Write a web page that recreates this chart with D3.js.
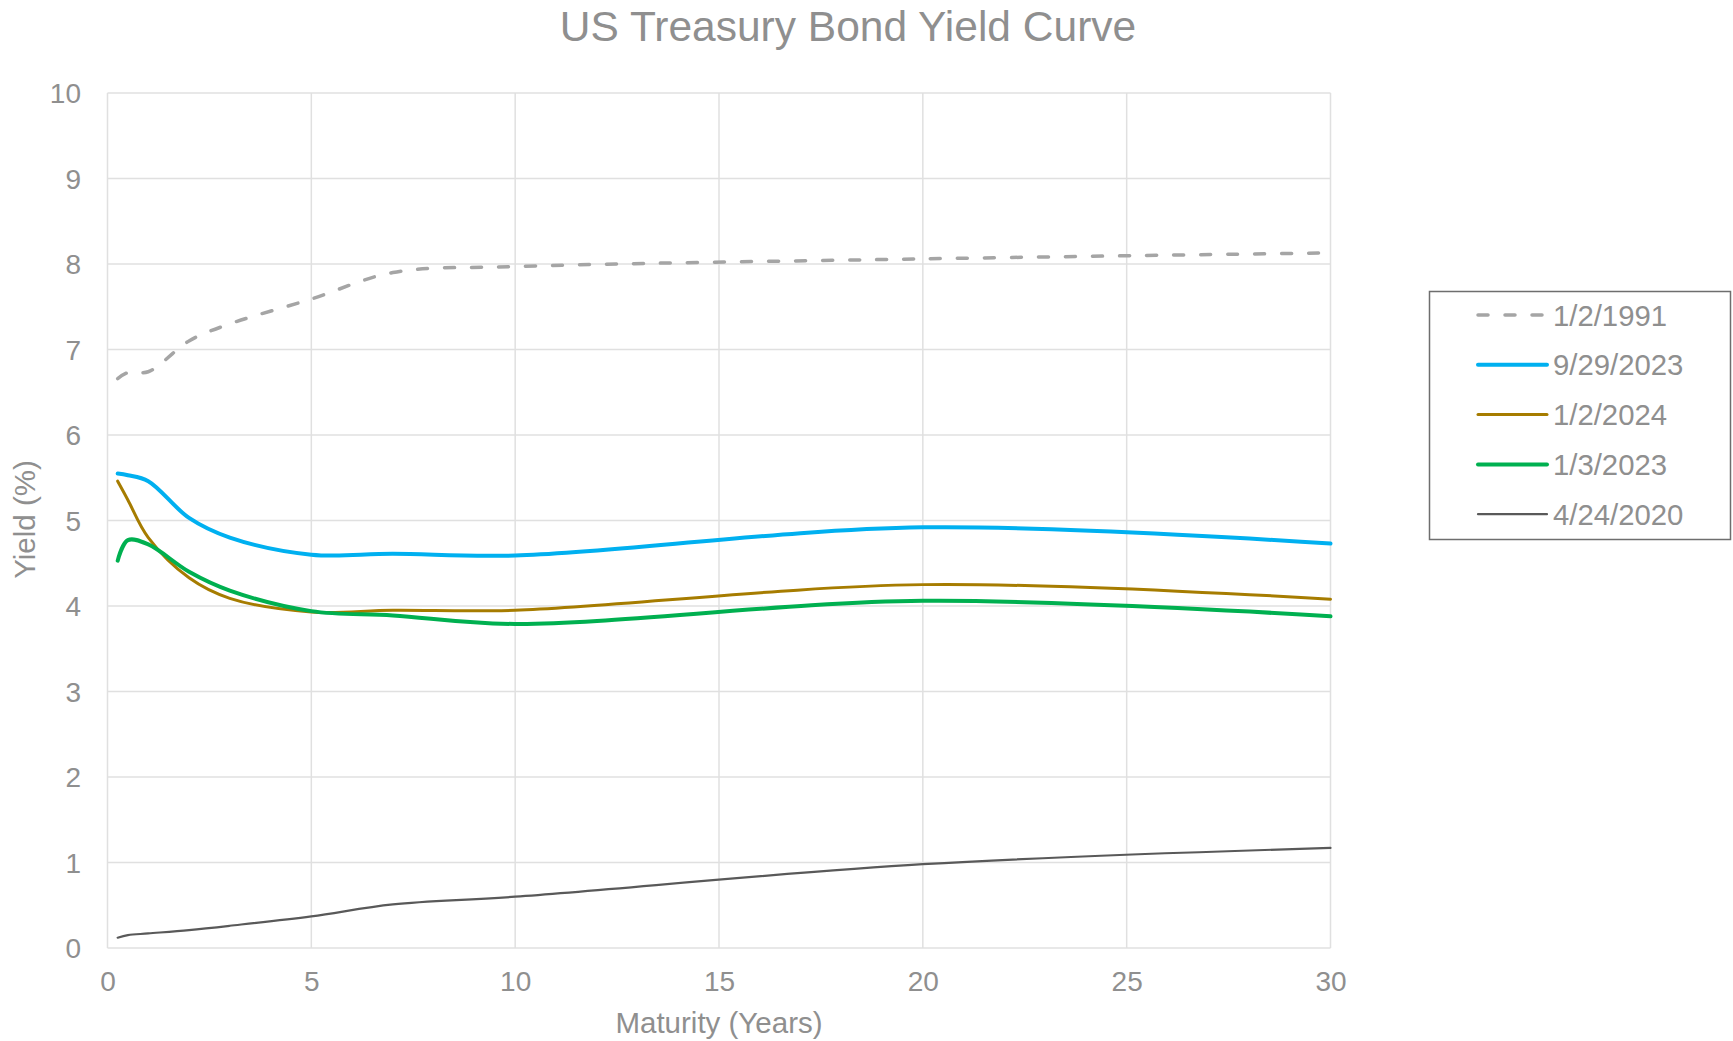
<!DOCTYPE html>
<html>
<head>
<meta charset="utf-8">
<script src="https://cdn.jsdelivr.net/npm/d3@7"></script>
<style>
  html, body { margin: 0; padding: 0; background: #fff; }
  svg { display: block; font-family: "Liberation Sans", Arial, sans-serif; }
</style>
</head>
<body>
<svg id="chart" width="1733" height="1041"></svg>
<script>
// ---- Data ----
const maturities = [0.25, 0.5, 1, 2, 3, 5, 7, 10, 20, 30];
const seriesNames = ["1/2/1991", "9/29/2023", "1/2/2024", "1/3/2023", "4/24/2020"];
const yields1991 = [6.66, 6.73, 6.74, 7.10, 7.30, 7.59, 7.90, 7.97, 8.06, 8.13];
const yields2023Sep = [5.55, 5.53, 5.46, 5.03, 4.80, 4.60, 4.61, 4.59, 4.92, 4.73];
const yields2024Jan = [5.46, 5.24, 4.80, 4.33, 4.09, 3.93, 3.95, 3.95, 4.25, 4.08];
const yields2023Jan = [4.53, 4.77, 4.72, 4.40, 4.18, 3.94, 3.89, 3.79, 4.06, 3.88];
const yields2020 = [0.12, 0.15, 0.17, 0.21, 0.26, 0.37, 0.51, 0.60, 0.98, 1.17];
const xTicks = [0, 5, 10, 15, 20, 25, 30];
const yTicks = [0, 1, 2, 3, 4, 5, 6, 7, 8, 9, 10];
const chartTitle = "US Treasury Bond Yield Curve";
const xTitle = "Maturity (Years)";
const yTitle = "Yield (%)";

const seriesValues = [yields1991, yields2023Sep, yields2024Jan, yields2023Jan, yields2020];
const styles = [
  { color: "#A5A5A5", width: 3.5, dash: "10,17" },
  { color: "#00B0F0", width: 4, dash: null },
  { color: "#A67C00", width: 3, dash: null },
  { color: "#00B050", width: 4, dash: null },
  { color: "#595959", width: 2.2, dash: null }
];

// ---- Layout ----
const svg = d3.select("#chart");
const pLeft = 107.5, pRight = 1330.5, pTop = 93, pBottom = 948;
const x = d3.scaleLinear().domain([0, 30]).range([pLeft, pRight]);
const y = d3.scaleLinear().domain([0, 10]).range([pBottom, pTop]);
const textColor = "#8F8F8F";
const gridColor = "#E0E0E0";

// Gridlines
const grid = svg.append("g");
grid.selectAll(".hg").data(yTicks).join("line")
  .attr("x1", pLeft).attr("x2", pRight)
  .attr("y1", d => y(d)).attr("y2", d => y(d))
  .attr("stroke", gridColor).attr("stroke-width", 1.5);
grid.selectAll(".vg").data(xTicks).join("line")
  .attr("y1", pTop).attr("y2", pBottom)
  .attr("x1", d => x(d)).attr("x2", d => x(d))
  .attr("stroke", gridColor).attr("stroke-width", 1.5);

// Axes (labels only)
const xAxis = d3.axisBottom(x).tickValues(xTicks).tickSize(0).tickPadding(0);
const gx = svg.append("g").attr("transform", `translate(0,${pBottom})`).call(xAxis);
gx.select(".domain").remove();
gx.selectAll("text").attr("font-size", 28).attr("fill", textColor)
  .attr("font-family", "Liberation Sans, Arial, sans-serif")
  .attr("dy", null).attr("y", 43);

const yAxis = d3.axisLeft(y).tickValues(yTicks).tickSize(0).tickPadding(0);
const gy = svg.append("g").attr("transform", `translate(81,0)`).call(yAxis);
gy.select(".domain").remove();
gy.selectAll("text").attr("font-size", 28).attr("fill", textColor)
  .attr("font-family", "Liberation Sans, Arial, sans-serif")
  .attr("x", 0).attr("dy", "0.35em");

// Lines
const line = d3.line()
  .x(d => x(d[0])).y(d => y(d[1]))
  .curve(d3.curveCatmullRom.alpha(0.5));

const plot = svg.append("g");
seriesValues.forEach((vals, i) => {
  const pts = maturities.map((m, j) => [m, vals[j]]);
  const p = plot.append("path").datum(pts)
    .attr("d", line)
    .attr("fill", "none")
    .attr("stroke", styles[i].color)
    .attr("stroke-width", styles[i].width)
    .attr("stroke-linejoin", "round")
    .attr("stroke-linecap", "round");
  if (styles[i].dash) p.attr("stroke-dasharray", styles[i].dash);
});

// Title
svg.append("text").attr("x", 848).attr("y", 40.5)
  .attr("text-anchor", "middle").attr("font-size", 42.5).attr("fill", textColor)
  .text(chartTitle);

// Axis titles
svg.append("text").attr("x", (pLeft + pRight) / 2).attr("y", 1033)
  .attr("text-anchor", "middle").attr("font-size", 29.5).attr("fill", textColor)
  .text(xTitle);
svg.append("text")
  .attr("transform", `translate(35,${(pTop + pBottom) / 2 - 1}) rotate(-90)`)
  .attr("text-anchor", "middle").attr("font-size", 29.5).attr("fill", textColor)
  .text(yTitle);

// Legend
const lg = svg.append("g");
lg.append("rect").attr("x", 1429.5).attr("y", 291.5).attr("width", 301).attr("height", 248)
  .attr("fill", "#fff").attr("stroke", "#6E6E6E").attr("stroke-width", 1.5);
seriesNames.forEach((name, i) => {
  const cy = 315 + i * 49.8;
  const l = lg.append("line").attr("x1", 1478).attr("x2", 1547)
    .attr("y1", cy).attr("y2", cy)
    .attr("stroke", styles[i].color).attr("stroke-width", styles[i].width)
    .attr("stroke-linecap", "round");
  if (styles[i].dash) l.attr("stroke-dasharray", styles[i].dash);
  lg.append("text").attr("x", 1553).attr("y", cy).attr("dy", "0.36em")
    .attr("font-size", 29.3).attr("fill", textColor).text(name);
});
</script>
</body>
</html>
